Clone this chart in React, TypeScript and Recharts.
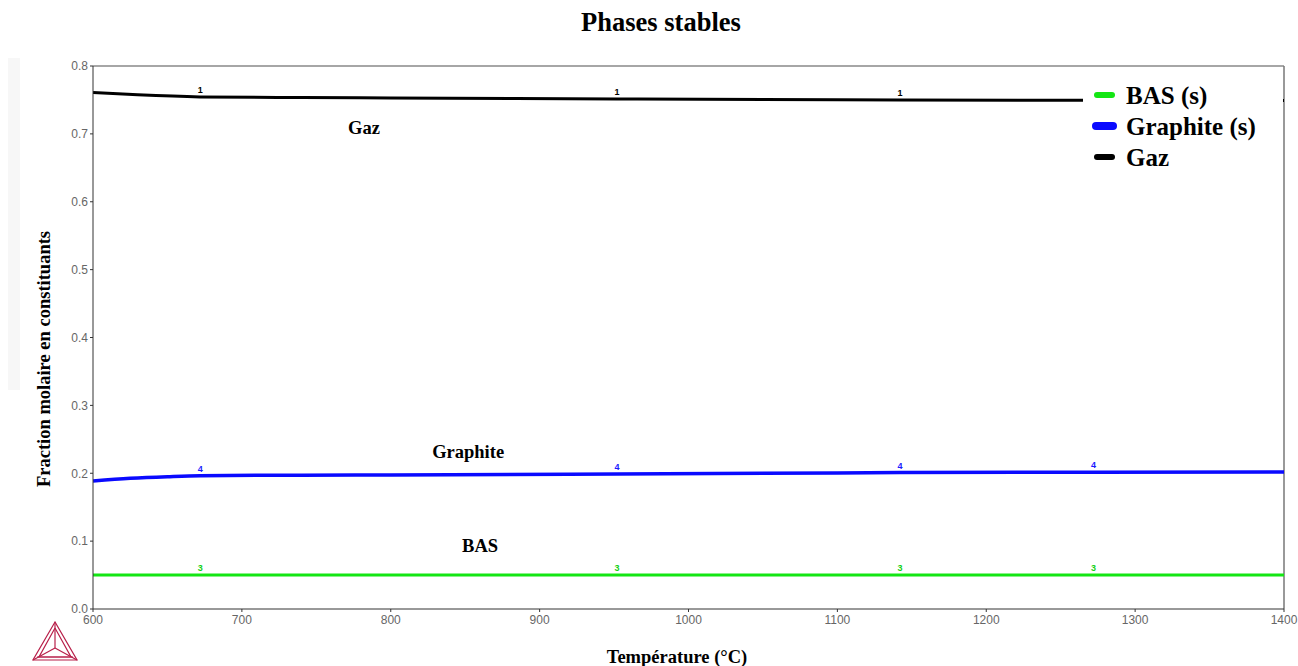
import React from 'react';
import { LineChart, Line, XAxis, YAxis, ReferenceLine, ReferenceDot, Legend, LabelList } from 'recharts';

// Temperatures (°C) and molar fractions
const gazTemps = [600, 630, 672, 740, 800, 952, 1100, 1142, 1272, 1400];
const gazValues = [0.761, 0.7575, 0.7545, 0.7535, 0.753, 0.7515, 0.7502, 0.7499, 0.7495, 0.749];

const graphiteTemps = [600, 625, 650, 672, 740, 800, 952, 1100, 1142, 1272, 1400];
const graphiteValues = [0.1886, 0.1925, 0.195, 0.1965, 0.1972, 0.1975, 0.1989, 0.2005, 0.201, 0.2015, 0.2018];

const basTemps = [600, 672, 800, 952, 1100, 1142, 1272, 1400];
const basValues = [0.05, 0.05, 0.05, 0.05, 0.05, 0.05, 0.05, 0.05];

// Temperatures where the curve numbers are printed
const markTemps = [672, 952, 1142, 1272];

const xTicks = [600, 700, 800, 900, 1000, 1100, 1200, 1300, 1400];
const yTicks = [0, 0.1, 0.2, 0.3, 0.4, 0.5, 0.6, 0.7, 0.8];

const legendNames = ['BAS (s)', 'Graphite (s)', 'Gaz'];
const legendColors = ['#14e614', '#0a0aff', '#000000'];

const curveLabels = [
  { text: 'Gaz', x: 782, y: 0.6998 },
  { text: 'Graphite', x: 852, y: 0.2225 },
  { text: 'BAS', x: 860, y: 0.084 },
];

const build = (temps: number[], vals: number[], mark: string) =>
  temps.map((t, i) => ({ t, v: vals[i], mark: markTemps.includes(t) ? mark : null }));

const gazData = build(gazTemps, gazValues, '1');
const graphiteData = build(graphiteTemps, graphiteValues, '4');
const basData = build(basTemps, basValues, '3');

const serif = '"Liberation Serif", "Times New Roman", serif';
const sans = '"Liberation Sans", Arial, sans-serif';

const markLabel = (color: string) => (props: any) => {
  const { x, y, value } = props;
  if (value == null) return null;
  return (
    <text x={x} y={y - 4} textAnchor="middle" fontFamily={sans} fontWeight="bold" fontSize={9} fill={color}>
      {value}
    </text>
  );
};

const LegendBox = () => (
  <div style={{ background: '#fff', width: 200, paddingTop: 0 }}>
    {legendNames.map((n, i) => (
      <div key={n} style={{ display: 'flex', alignItems: 'center', height: 31 }}>
        <div style={{ width: 43, display: 'flex', justifyContent: 'center' }}>
          <span
            style={{
              display: 'inline-block',
              width: i === 1 ? 25 : 21,
              height: i === 1 ? 8 : 6,
              borderRadius: 4,
              background: legendColors[i],
            }}
          />
        </div>
        <span style={{ fontFamily: serif, fontWeight: 'bold', fontSize: 25, color: '#000', lineHeight: '31px' }}>{n}</span>
      </div>
    ))}
  </div>
);

export default function App() {
  return (
    <div style={{ position: 'absolute', left: 0, top: 0, width: 1298, height: 666, background: '#fff', overflow: 'hidden' }}>
      <div style={{ position: 'absolute', left: 8, top: 58, width: 12, height: 332, background: '#f7f7f7' }} />
      <LineChart
        width={1298}
        height={666}
        margin={{ top: 66, right: 14, bottom: 37, left: 63 }}
        style={{ position: 'absolute', left: 0, top: 0 }}
      >
        <XAxis
          type="number"
          dataKey="t"
          domain={[600, 1400]}
          ticks={xTicks}
          allowDataOverflow
          height={20}
          tickSize={3}
          tickMargin={3}
          stroke="#333"
          tick={{ fill: '#666', fontSize: 12, fontFamily: sans }}
        />
        <YAxis
          type="number"
          domain={[0, 0.8]}
          ticks={yTicks}
          width={30}
          tickSize={3}
          tickMargin={2}
          stroke="#333"
          tickFormatter={(v: number) => v.toFixed(1)}
          tick={{ fill: '#666', fontSize: 12, fontFamily: sans }}
        />
        <ReferenceLine y={0.8} stroke="#888" strokeWidth={1.5} />
        <ReferenceLine x={1400} stroke="#777" strokeWidth={1.5} />
        <Line data={basData} dataKey="v" type="monotone" stroke={legendColors[0]} strokeWidth={3} dot={false} isAnimationActive={false}>
          <LabelList dataKey="mark" content={markLabel('#14d014')} />
        </Line>
        <Line data={graphiteData} dataKey="v" type="monotone" stroke={legendColors[1]} strokeWidth={3.5} dot={false} isAnimationActive={false}>
          <LabelList dataKey="mark" content={markLabel('#1a1aff')} />
        </Line>
        <Line data={gazData} dataKey="v" type="monotone" stroke="#000" strokeWidth={3} dot={false} isAnimationActive={false}>
          <LabelList dataKey="mark" content={markLabel('#000')} />
        </Line>
        {curveLabels.map((c) => (
          <ReferenceDot
            key={c.text}
            x={c.x}
            y={c.y}
            r={0}
            shape={(p: any) => (
              <text x={p.cx} y={p.cy} textAnchor="middle" fontFamily={serif} fontWeight="bold" fontSize={18.5} fill="#000">
                {c.text}
              </text>
            )}
          />
        ))}
        <Legend
          layout="vertical"
          align="center"
          verticalAlign="middle"
          content={() => <LegendBox />}
          wrapperStyle={{ position: 'absolute', left: 1083, top: 79.5, width: 200, height: 93 }}
        />
      </LineChart>
      <svg width={1298} height={666} style={{ position: 'absolute', left: 0, top: 0, pointerEvents: 'none' }}>
        <text x={661} y={31} textAnchor="middle" fontFamily={serif} fontWeight="bold" fontSize={26.5} fill="#000">
          Phases stables
        </text>
        <text x={677} y={663} textAnchor="middle" fontFamily={serif} fontWeight="bold" fontSize={18.5} fill="#000">
          Température (°C)
        </text>
        <text
          x={0}
          y={0}
          transform="translate(50,359) rotate(-90)"
          textAnchor="middle"
          fontFamily={serif}
          fontWeight="bold"
          fontSize={18.5}
          fill="#000"
        >
          Fraction molaire en constituants
        </text>
        <g stroke="#b8204a" strokeWidth={1.2} fill="none">
          <polygon points="55,622 33,660 77,660" />
          <line x1={55} y1={622} x2={55} y2={648} />
          <line x1={33} y1={660} x2={55} y2={648} />
          <line x1={77} y1={660} x2={55} y2={648} />
          <polyline points="55,628 39,657 71,657 55,628" />
          <line x1={37} y1={657} x2={73} y2={657} />
        </g>
      </svg>
    </div>
  );
}
